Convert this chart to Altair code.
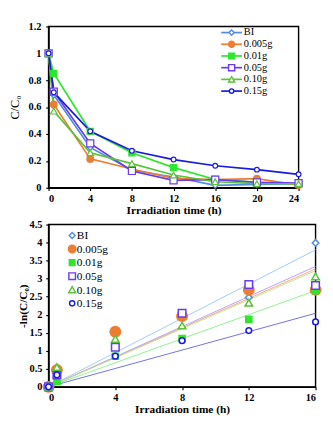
import altair as alt
import pandas as pd

series = ["BI", "0.005g", "0.01g", "0.05g", "0.10g", "0.15g"]
colors = ["#4f8fdc", "#ed7d31", "#2ee62e", "#6a3cf0", "#5cc23a", "#1a1ae0"]
trend_colors = ["#9ccaf5", "#f3a57d", "#8cef8c", "#b49cf5", "#bfe38e", "#6b6be6"]
fills = ["white", "#ed7d31", "#2ee62e", "white", "white", "white"]
shapes = ["diamond", "circle", "square", "square", "triangle-up", "circle"]
sizes_top = [36, 49, 42, 56, 49, 25]
sizes_bot = [49, 121, 42, 64, 64, 36]
sizes_leg_top = [30, 40, 36, 42, 42, 22]
sizes_leg_bot = [40, 64, 36, 49, 56, 30]

# top panel: C/C0 vs time
t_top = [0, 0.5, 4, 8, 12, 16, 20, 24]
c_bi = [1, 0.69, 0.30, 0.13, 0.08, 0.018, 0.025, 0.03]
c_005 = [1, 0.62, 0.215, 0.14, 0.07, 0.06, 0.068, 0.02]
c_01 = [1, 0.85, 0.42, 0.26, 0.15, 0.062, 0.04, 0.03]
c_05 = [1, 0.715, 0.33, 0.125, 0.055, 0.06, 0.04, 0.035]
c_10 = [1, 0.57, 0.26, 0.18, 0.095, 0.045, 0.03, 0.03]
c_15 = [1, 0.71, 0.42, 0.275, 0.21, 0.164, 0.135, 0.10]

# bottom panel: -ln(C/C0) vs time, and fitted lines (value at 16 h)
t_bot = [0, 0.5, 4, 8, 12, 16]
l_bi = [0, 0.37, 1.18, 2.0, 2.48, 3.99]
l_005 = [0, 0.47, 1.53, 1.96, 2.69, 2.69]
l_01 = [0, 0.15, 0.85, 1.34, 1.87, 2.67]
l_05 = [0, 0.33, 1.10, 2.04, 2.84, 2.81]
l_10 = [0, 0.55, 1.33, 1.70, 2.33, 3.06]
l_15 = [0, 0.33, 0.85, 1.28, 1.56, 1.80]
fit_x = [0, 16]
fit_end = [3.80, 3.27, 2.67, 3.34, 3.22, 2.04]

x_top_ticks = [0, 4, 8, 12, 16, 20, 24]
y_top_ticks = [0, 0.2, 0.4, 0.6, 0.8, 1.0, 1.2]
x_bot_ticks = [0, 4, 8, 12, 16]
y_bot_ticks = [0, 0.5, 1, 1.5, 2, 2.5, 3, 3.5, 4, 4.5]

top_vals = [c_bi, c_005, c_01, c_05, c_10, c_15]
bot_vals = [l_bi, l_005, l_01, l_05, l_10, l_15]

top_df = pd.DataFrame(
    [{"series": s, "t": t, "v": v} for s, vals in zip(series, top_vals) for t, v in zip(t_top, vals)]
)
bot_df = pd.DataFrame(
    [{"series": s, "t": t, "v": v} for s, vals in zip(series, bot_vals) for t, v in zip(t_bot, vals)]
)
fit_df = pd.DataFrame(
    [{"series": s, "t": x, "v": (0 if x == 0 else e)} for s, e in zip(series, fit_end) for x in fit_x]
)

FONT = "Liberation Serif"


def line_layers(df, x, y, cols, sw):
    return [
        alt.Chart(df).transform_filter(alt.datum.series == s).mark_line(
            color=c, strokeWidth=sw
        ).encode(x=x, y=y)
        for s, c in zip(series, cols)
    ]


def point_layers(df, x, y, sizes, sw):
    return [
        alt.Chart(df).transform_filter(alt.datum.series == s).mark_point(
            shape=shp, size=sz, stroke=col, fill=fl, filled=True, strokeWidth=sw, opacity=1
        ).encode(x=x, y=y)
        for s, shp, sz, col, fl in zip(series, shapes, sizes, colors, fills)
    ]


def legend_layers(x_mark, x_text, y0, step, sizes, font_size, line_half=None):
    out = []
    for i, (s, shp, sz, col, fl) in enumerate(zip(series, shapes, sizes, colors, fills)):
        row = alt.Chart(pd.DataFrame({"series": [s]}))
        yy = y0 + i * step
        if line_half is not None:
            out.append(row.mark_rule(color=col, strokeWidth=1.8).encode(
                x=alt.value(x_mark - line_half), x2=alt.value(x_mark + line_half), y=alt.value(yy)))
        out.append(row.mark_point(shape=shp, size=sz, stroke=col, fill=fl, filled=True,
                                  strokeWidth=1.5, opacity=1).encode(
            x=alt.value(x_mark), y=alt.value(yy)))
        out.append(row.mark_text(align="left", baseline="middle", font=FONT,
                                 fontSize=font_size, color="black").encode(
            x=alt.value(x_text), y=alt.value(yy), text="series:N"))
    return out


# ---------- top panel ----------
xt = alt.X("t:Q", scale=alt.Scale(domain=[0, 24], nice=False),
           axis=alt.Axis(values=x_top_ticks, title="Irradiation time (h)", labelPadding=3,
                         titlePadding=1))
yt = alt.Y("v:Q", scale=alt.Scale(domain=[0, 1.2], nice=False),
           axis=alt.Axis(values=y_top_ticks, format="~g", title="C/C₀", labelPadding=5,
                         minExtent=27, titlePadding=2, titleFontWeight="normal",
                         titleFontSize=13))

top = alt.layer(
    *line_layers(top_df, xt, yt, colors, 1.8),
    *point_layers(top_df, xt, yt, sizes_top, 1.3),
    *legend_layers(194, 207, 6.5, 12.4, sizes_leg_top, 11, line_half=11),
).properties(width=265, height=171)

# ---------- bottom panel ----------
xb = alt.X("t:Q", scale=alt.Scale(domain=[0, 16], nice=False),
           axis=alt.Axis(values=x_bot_ticks, title="Irradiation time (h)", labelPadding=2,
                         titlePadding=2, labelFlush=True))
yb = alt.Y("v:Q", scale=alt.Scale(domain=[0, 4.5], nice=False),
           axis=alt.Axis(values=y_bot_ticks, format="~g", title="-ln(C/C₀)", labelPadding=4,
                         minExtent=20, titlePadding=0, titleFontSize=12))

bottom = alt.layer(
    *line_layers(fit_df, xb, yb, trend_colors, 1),
    *point_layers(bot_df, xb, yb, sizes_bot, 1.6),
    *legend_layers(25, 30, 11.5, 14.4, sizes_leg_bot, 12),
).properties(width=283, height=172)

chart = alt.concat(top, bottom, columns=1, spacing=2, align="none").properties(
    padding={"left": 0, "top": 0, "right": 0, "bottom": 0}
).configure_view(stroke="black", strokeWidth=1.5).configure_axis(
    grid=False, domainColor="black", domainWidth=1.5, tickColor="black", tickSize=3,
    tickWidth=1.2, labelFont=FONT, labelFontWeight="bold", labelFontSize=11,
    labelColor="black", titleFont=FONT, titleFontWeight="bold", titleFontSize=12,
    titleColor="black"
)

chart.save("out.html", embed_options={"renderer": "svg", "actions": False})
